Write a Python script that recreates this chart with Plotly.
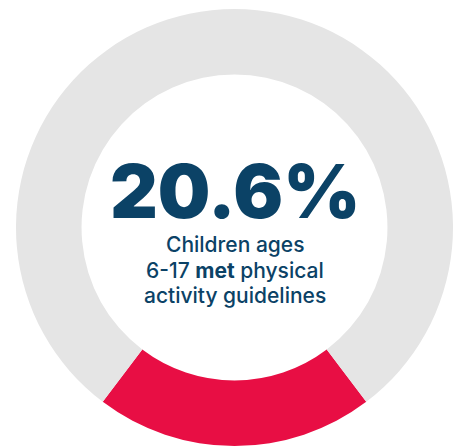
import plotly.graph_objects as go

labels = ["Met guidelines", "Did not meet guidelines"]
values = [20.6, 79.4]
colors = ["#e80e44", "#e5e5e5"]
big_text = "20.6%"
sub_lines = ["Children ages", "6-17 <b>met</b> physical", "activity guidelines"]

W, H = 460, 446
navy = "#0b4266"

fig = go.Figure(go.Pie(
    labels=labels,
    values=values,
    marker=dict(colors=colors, line=dict(width=0)),
    hole=0.70,
    sort=False,
    direction="clockwise",
    rotation=180 - values[0] / 100 * 360 / 2,
    textinfo="none",
    hoverinfo="skip",
    domain=dict(x=[15 / W, 454 / W], y=[0, 437 / H]),
    showlegend=False,
))

cx = 234.5 / W
fig.add_annotation(text=big_text, x=cx, y=(H - 191) / H, xref="paper", yref="paper",
                   xanchor="center", yanchor="middle", showarrow=False,
                   height=76, valign="middle",
                   font=dict(family="Inter", size=74, color=navy, weight=900))
for line, yc in zip(sub_lines, [244, 270, 295.5]):
    fig.add_annotation(text=line, x=cx, y=(H - yc) / H, xref="paper", yref="paper",
                       xanchor="center", yanchor="middle", showarrow=False, align="center",
                       font=dict(family="Inter", size=21, color=navy, weight=500))

fig.update_layout(width=W, height=H, margin=dict(l=0, r=0, t=0, b=0),
                  paper_bgcolor="white", plot_bgcolor="white")
fig.write_html("out.html", config={"displayModeBar": False},
               post_script="document.body.style.margin='0';document.body.style.overflow='hidden';")
